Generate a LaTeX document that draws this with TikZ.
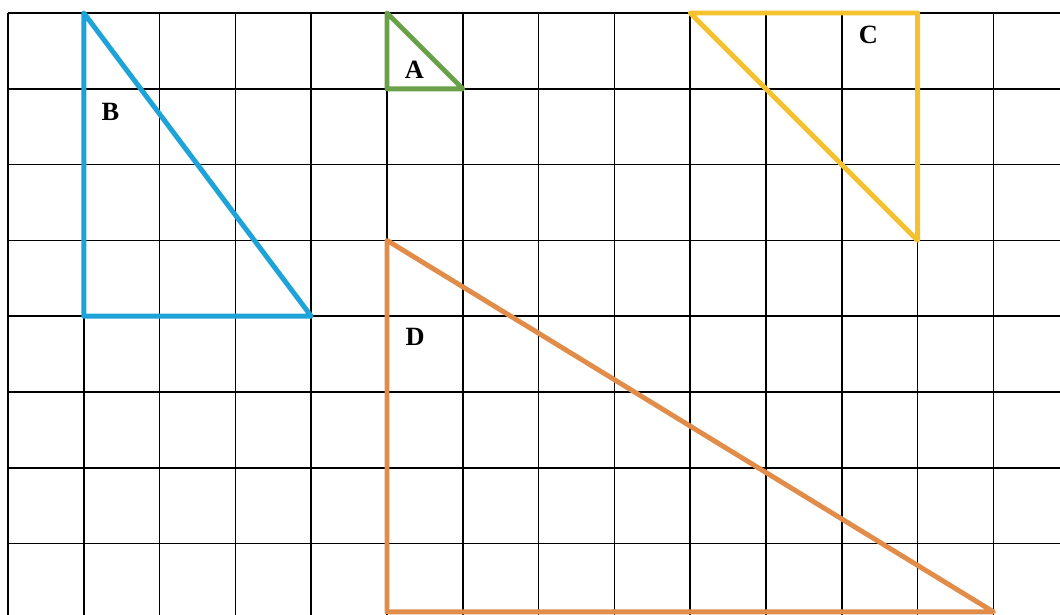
\documentclass[tikz,border=0pt]{standalone}
\usepackage{fontspec}
\setmainfont{Liberation Serif}
\definecolor{triblue}{RGB}{30,163,216}
\definecolor{trigreen}{RGB}{106,160,72}
\definecolor{triyellow}{RGB}{244,194,46}
\definecolor{triorange}{RGB}{226,140,74}
\begin{document}
\begin{tikzpicture}[
	x=1.516cm, y=1.516cm,
	gridline/.style={ black, line width=1pt },
	corner/.style={ coordinate },
	tri/.style={ line width=2.8pt, line join=round },
	lbl/.style={ font=\fontsize{15}{18}\selectfont\bfseries, inner sep=0pt }
]
\useasboundingbox (-0.1055,0.1715) rectangle (13.879,-7.942);

% grid
\foreach \x in {0,...,13} \draw[gridline] (\x,0) -- (\x,-7.942);
\foreach \y in {0,...,7} \draw[gridline] (0,-\y) -- (13.879,-\y);

\node at (1,0) (btop) [corner] {};
\node at (1,-4) (bleft) [corner] {};
\node at (4,-4) (bright) [corner] {};
\draw[tri,triblue] (btop) -- (bleft) -- (bright) -- cycle;
\node at (1.35,-1.31) (blbl) [lbl] {B};

\node at (5,0) (atop) [corner] {};
\node at (5,-1) (aleft) [corner] {};
\node at (6,-1) (aright) [corner] {};
\draw[tri,trigreen] (atop) -- (aleft) -- (aright) -- cycle;
\node at (5.36,-0.75) (albl) [lbl] {A};

\node at (9,0) (cleft) [corner] {};
\node at (12,0) (cright) [corner] {};
\node at (12,-3) (cbottom) [corner] {};
\draw[tri,triyellow] (cleft) -- (cright) -- (cbottom) -- cycle;
\node at (11.35,-0.29) (clbl) [lbl] {C};

\node at (5,-3) (dtop) [corner] {};
\node at (5,-7.9) (dleft) [corner] {};
\node at (13,-7.9) (dright) [corner] {};
\draw[tri,triorange] (dtop) -- (dleft) -- (dright) -- cycle;
\node at (5.37,-4.27) (dlbl) [lbl] {D};

\end{tikzpicture}
\end{document}
